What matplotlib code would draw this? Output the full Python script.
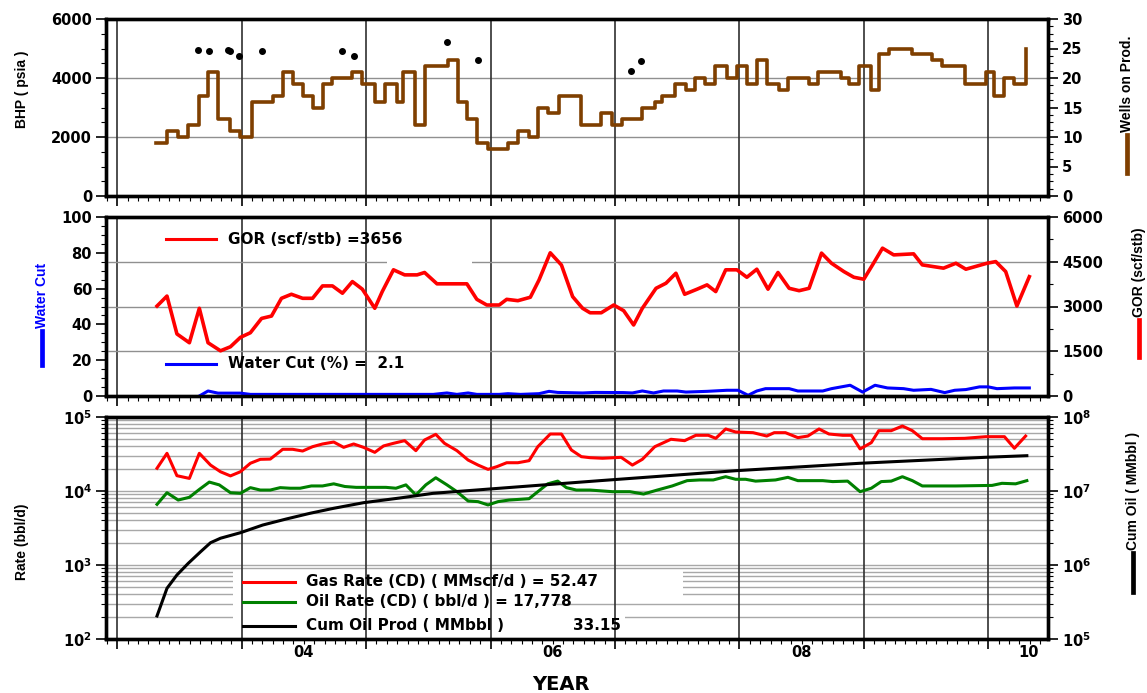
import numpy as np
import matplotlib
matplotlib.use("Agg")
from matplotlib import pyplot as plt
from matplotlib.ticker import MultipleLocator, FixedLocator, FixedFormatter, LogLocator, NullFormatter
from matplotlib.patches import Rectangle
from matplotlib.lines import Line2D

# ---------------- data (decimal year, value) ----------------
# top panel : wells on production (step) + BHP points
wells_year = [2003.31, 2003.40, 2003.49, 2003.57, 2003.66, 2003.73, 2003.81, 2003.91, 2003.99,
              2004.08, 2004.25, 2004.33, 2004.41, 2004.49, 2004.57, 2004.65, 2004.73, 2004.89, 2004.97,
              2005.07, 2005.15, 2005.25, 2005.30, 2005.39, 2005.47, 2005.66, 2005.74, 2005.81, 2005.89, 2005.98,
              2006.14, 2006.22, 2006.31, 2006.38, 2006.46, 2006.55, 2006.73, 2006.89, 2006.98,
              2007.06, 2007.22, 2007.32, 2007.38, 2007.48, 2007.57, 2007.64, 2007.72, 2007.80, 2007.90, 2007.98,
              2008.06, 2008.14, 2008.22, 2008.32, 2008.39, 2008.56, 2008.63, 2008.82, 2008.88, 2008.96,
              2009.06, 2009.12, 2009.20, 2009.39, 2009.55, 2009.63, 2009.81, 2009.98,
              2010.05, 2010.13, 2010.21, 2010.30]
wells = [9, 11, 10, 12, 17, 21, 13, 11, 10,
         16, 17, 21, 19, 17, 15, 19, 20, 21, 19,
         16, 19, 16, 21, 12, 22, 23, 16, 13, 9, 8,
         9, 11, 10, 15, 14, 17, 12, 14, 12,
         13, 15, 16, 17, 19, 18, 20, 19, 22, 20, 22,
         19, 23, 19, 18, 20, 19, 21, 20, 19, 22,
         18, 24, 25, 24, 23, 22, 19, 21,
         17, 20, 19, 25]

bhp_year = [2003.65, 2003.74, 2003.89, 2003.91, 2003.98, 2004.16, 2004.81, 2004.90,
            2005.65, 2005.90, 2007.13, 2007.21]
bhp = [4950, 4900, 4950, 4900, 4750, 4900, 4900, 4750, 5220, 4600, 4230, 4580]

# middle panel : GOR (right axis) and water cut (left axis)
gor_year = [2003.32, 2003.40, 2003.48, 2003.58, 2003.66, 2003.73, 2003.83, 2003.91, 2003.99,
            2004.07, 2004.16, 2004.24, 2004.32, 2004.40, 2004.49, 2004.57, 2004.65, 2004.73, 2004.81,
            2004.89, 2004.97, 2005.07, 2005.13, 2005.22, 2005.31, 2005.41, 2005.47, 2005.57, 2005.81,
            2005.89, 2005.97, 2006.07, 2006.13, 2006.22, 2006.32, 2006.39, 2006.48, 2006.57, 2006.66,
            2006.74, 2006.80, 2006.89, 2006.99, 2007.07, 2007.15, 2007.22, 2007.33, 2007.41, 2007.49,
            2007.56, 2007.66, 2007.74, 2007.81, 2007.89, 2007.98, 2008.06, 2008.14, 2008.23, 2008.31,
            2008.40, 2008.48, 2008.56, 2008.66, 2008.74, 2008.84, 2008.92, 2009.00, 2009.07, 2009.15,
            2009.24, 2009.40, 2009.47, 2009.64, 2009.74, 2009.82, 2009.99, 2010.06, 2010.14, 2010.23,
            2010.33]
gor = [3015, 3350, 2080, 1785, 2940, 1785, 1515, 1650, 1965,
       2120, 2600, 2680, 3275, 3410, 3275, 3275, 3690, 3690, 3445,
       3835, 3580, 2940, 3500, 4230, 4060, 4060, 4140, 3760, 3760,
       3240, 3050, 3050, 3240, 3195, 3310, 3890, 4800, 4390, 3330,
       2940, 2790, 2790, 3050, 2860, 2380, 2940, 3610, 3780, 4115,
       3410, 3580, 3725, 3500, 4230, 4230, 3980, 4250, 3580, 4140,
       3610, 3530, 3610, 4790, 4450, 4170, 3980, 3915, 4395, 4955,
       4730, 4765, 4395, 4285, 4450, 4250, 4450, 4505, 4170, 3015,
       4000]

wcut_year = [2003.66, 2003.73, 2003.81, 2003.99, 2004.07, 2005.54, 2005.65, 2005.73, 2005.82,
             2005.89, 2006.07, 2006.14, 2006.24, 2006.39, 2006.47, 2006.54, 2006.74, 2006.84,
             2007.07, 2007.14, 2007.22, 2007.31, 2007.39, 2007.50, 2007.57, 2007.74, 2007.90,
             2007.99, 2008.07, 2008.14, 2008.21, 2008.40, 2008.47, 2008.67, 2008.74, 2008.89,
             2008.99, 2009.09, 2009.19, 2009.32, 2009.40, 2009.54, 2009.65, 2009.73, 2009.82,
             2009.93, 2010.00, 2010.07, 2010.21, 2010.33]
wcut = [0.0, 2.8, 1.6, 1.6, 0.9, 0.9, 1.7, 0.9, 1.7,
        0.9, 0.9, 1.3, 0.9, 1.3, 2.6, 2.0, 1.7, 2.0,
        1.9, 1.7, 2.8, 1.7, 2.8, 2.8, 2.2, 2.6, 3.2,
        3.2, 0.4, 2.8, 4.1, 4.1, 2.8, 2.8, 4.1, 6.0,
        2.2, 6.0, 4.5, 4.1, 3.2, 3.7, 1.9, 3.2, 3.6,
        5.1, 5.1, 4.1, 4.5, 4.5]

# bottom panel : gas rate, oil rate (left, log) and cum oil (right, log)
gas_year = [2003.32, 2003.40, 2003.48, 2003.58, 2003.66, 2003.75, 2003.83, 2003.91, 2003.99,
            2004.07, 2004.15, 2004.23, 2004.33, 2004.41, 2004.49, 2004.57, 2004.65, 2004.74, 2004.82,
            2004.90, 2004.98, 2005.07, 2005.14, 2005.22, 2005.31, 2005.40, 2005.47, 2005.56, 2005.63,
            2005.73, 2005.82, 2005.90, 2005.98, 2006.05, 2006.13, 2006.22, 2006.31, 2006.38, 2006.48,
            2006.57, 2006.65, 2006.73, 2006.80, 2006.90, 2007.05, 2007.14, 2007.22, 2007.32, 2007.45,
            2007.56, 2007.65, 2007.75, 2007.81, 2007.89, 2007.97, 2008.11, 2008.22, 2008.28, 2008.37,
            2008.47, 2008.55, 2008.64, 2008.72, 2008.83, 2008.90, 2008.97, 2009.06, 2009.12, 2009.22,
            2009.31, 2009.39, 2009.47, 2009.63, 2009.81, 2009.98, 2010.13, 2010.21, 2010.30]
gas = [20300, 32300, 16100, 14800, 32300, 22400, 18200, 16000, 18200,
       23700, 26800, 27000, 36600, 36600, 34700, 39700, 43200, 45900, 38900,
       43200, 38900, 33300, 40600, 44100, 47900, 35100, 48900, 58300, 44100,
       35100, 26200, 22400, 19600, 21300, 24100, 24100, 25700, 39700, 58900,
       58900, 35800, 29100, 28200, 27700, 28500, 22400, 26800, 39700, 50000,
       47900, 56600, 56600, 51500, 68900, 62700, 61400, 55300, 61400, 61400,
       52600, 55300, 68900, 58900, 56600, 56600, 37000, 45000, 65300, 65300,
       75500, 65300, 50900, 50900, 51500, 54200, 54200, 37800, 55300]

oil_year = [2003.32, 2003.40, 2003.49, 2003.58, 2003.66, 2003.74, 2003.82, 2003.91, 2003.99,
            2004.07, 2004.15, 2004.23, 2004.31, 2004.39, 2004.47, 2004.56, 2004.65, 2004.74, 2004.83,
            2004.92, 2005.03, 2005.16, 2005.24, 2005.32, 2005.40, 2005.48, 2005.56, 2005.65, 2005.73,
            2005.82, 2005.90, 2005.98, 2006.06, 2006.15, 2006.31, 2006.38, 2006.46, 2006.54, 2006.61,
            2006.69, 2006.80, 2006.98, 2007.12, 2007.23, 2007.34, 2007.46, 2007.58, 2007.68, 2007.79,
            2007.89, 2007.97, 2008.05, 2008.13, 2008.29, 2008.39, 2008.47, 2008.56, 2008.67, 2008.75,
            2008.87, 2008.97, 2009.06, 2009.14, 2009.22, 2009.31, 2009.39, 2009.47, 2009.74, 2010.03,
            2010.11, 2010.22, 2010.31]
oil = [6600, 9480, 7550, 8220, 10500, 13200, 12100, 9480, 9300,
       11100, 10300, 10300, 11100, 10900, 10900, 11700, 11700, 12500, 11500,
       11200, 11200, 11200, 10900, 12100, 8830, 12100, 15100, 12100, 9790,
       7330, 7180, 6480, 7180, 7550, 7870, 9790, 12500, 13600, 11100,
       10300, 10300, 9790, 9790, 9100, 10300, 11700, 13800, 14100, 14100,
       15600, 14400, 14400, 13600, 14100, 15300, 13800, 13800, 13800, 13400,
       13600, 9790, 10900, 13400, 13600, 15600, 13800, 11700, 11700, 11900,
       12700, 12500, 13800]

cum_year = [2003.32, 2003.40, 2003.48, 2003.57, 2003.67, 2003.75, 2003.83, 2003.99, 2004.17,
            2004.36, 2004.55, 2004.74, 2004.98, 2005.27, 2005.54, 2005.98, 2006.88, 2007.97,
            2008.97, 2009.97, 2010.31]
cum_oil = [2.05e5, 4.84e5, 7.33e5, 1.05e6, 1.51e6, 2.0e6, 2.30e6, 2.73e6, 3.47e6,
           4.19e6, 5.0e6, 5.84e6, 6.95e6, 8.04e6, 9.31e6, 1.06e7, 1.38e7, 1.88e7,
           2.37e7, 2.85e7, 3.0e7]

year_lines = [2003, 2004, 2005, 2006, 2007, 2008, 2009, 2010]
year_label_pos = [2004.5, 2006.5, 2008.5, 2010.32]
year_labels = ["04", "06", "08", "10"]

BROWN = "#7f3f00"
XMIN, XMAX = 2002.91, 2010.48

plt.rcParams['font.family'] = ['DejaVu Sans']
plt.rcParams['font.weight'] = 'bold'

W, H = 1147, 693
fig = plt.figure(figsize=(W / 100, H / 100), dpi=100)


def px_axes(x0, y0, x1, y1):
    return fig.add_axes([x0 / W, 1 - y1 / H, (x1 - x0) / W, (y1 - y0) / H])


def style(ax, axr):
    ax.set_xlim(XMIN, XMAX)
    ax.xaxis.set_major_locator(FixedLocator(year_lines))
    ax.xaxis.set_major_formatter(NullFormatter())
    ax.xaxis.set_minor_locator(FixedLocator(np.arange(2002, 2011, 1 / 12)))
    for a in (ax, axr):
        for s in a.spines.values():
            s.set_linewidth(2.4)
        a.tick_params(which='major', direction='out', length=7, width=1.2, labelsize=10.5, pad=3)
        a.tick_params(which='minor', direction='out', length=3.5, width=0.8)
    for yr in year_lines:
        ax.axvline(yr, color='#303030', lw=1.2, zorder=1.2)
    ax.set_axisbelow(True)
    axr.set_axisbelow(True)


# ---------------- top panel ----------------
ax1 = px_axes(106, 19, 1048, 196)
ax1r = ax1.twinx()
style(ax1, ax1r)
ax1.set_ylim(0, 6000)
ax1.yaxis.set_major_locator(MultipleLocator(2000))
ax1.yaxis.set_minor_locator(MultipleLocator(500))
ax1.grid(axis='y', color='#909090', lw=1)
ax1r.set_ylim(0, 30)
ax1r.yaxis.set_major_locator(MultipleLocator(5))
ax1r.yaxis.set_minor_locator(MultipleLocator(1.25))
ax1r.step(wells_year, wells, where='post', color=BROWN, lw=2.6, zorder=3)
ax1r.plot(bhp_year, np.array(bhp) / 200.0, 'o', color='black', ms=4, zorder=4)

# ---------------- middle panel ----------------
ax2 = px_axes(106, 217, 1048, 396)
ax2r = ax2.twinx()
style(ax2, ax2r)
ax2.set_ylim(0, 100)
ax2.yaxis.set_major_locator(MultipleLocator(20))
ax2.yaxis.set_minor_locator(MultipleLocator(5))
ax2r.set_ylim(0, 6000)
ax2r.yaxis.set_major_locator(MultipleLocator(1500))
ax2r.yaxis.set_minor_locator(MultipleLocator(750))
ax2r.grid(axis='y', color='#909090', lw=1)
ax2r.add_patch(Rectangle((0.298, 0.715), 0.091, 0.07, transform=ax2r.transAxes,
                         facecolor='white', edgecolor='none', zorder=1))
ax2.plot(wcut_year, wcut, color='#0000ff', lw=2.2, zorder=3)
ax2r.plot(gor_year, gor, color='#ff0000', lw=2.6, zorder=3)
ax2r.plot([0.064, 0.117], [0.877, 0.877], color='#ff0000', lw=2.2, transform=ax2r.transAxes)
ax2r.text(0.1295, 0.877, "GOR (scf/stb) =3656", transform=ax2r.transAxes, va='center', fontsize=11)
ax2r.plot([0.064, 0.117], [0.179, 0.179], color='#0000ff', lw=2.2, transform=ax2r.transAxes)
ax2r.text(0.1295, 0.179, "Water Cut (%) =  2.1", transform=ax2r.transAxes, va='center', fontsize=11)

# ---------------- bottom panel ----------------
ax3 = px_axes(106, 417, 1048, 639)
ax3r = ax3.twinx()
style(ax3, ax3r)
for a, lo in ((ax3, 2), (ax3r, 5)):
    a.set_yscale('log')
    a.set_ylim(10 ** lo, 10 ** (lo + 3))
    a.yaxis.set_major_locator(FixedLocator([10 ** k for k in range(lo, lo + 4)]))
    a.yaxis.set_major_formatter(FixedFormatter([r'$\mathbf{10^{%d}}$' % k for k in range(lo, lo + 4)]))
    a.yaxis.set_minor_locator(LogLocator(base=10, subs=np.arange(2, 10)))
    a.yaxis.set_minor_formatter(NullFormatter())
ax3.grid(axis='y', which='both', color='#a8a8a8', lw=1)
# white legend background hides the horizontal grid only
for (x0, y0, x1, y1) in [(233, 570, 683, 600), (233, 600, 552, 610), (233, 610, 625, 634)]:
    ax3.add_patch(Rectangle(((x0 - 106) / 942, (639 - y1) / 222), (x1 - x0) / 942, (y1 - y0) / 222,
                            transform=ax3.transAxes, facecolor='white', edgecolor='none', zorder=1))
ax3.plot(gas_year, gas, color='#ff0000', lw=2.2, zorder=3)
ax3.plot(oil_year, oil, color='#008000', lw=2.2, zorder=3)
ax3r.plot(cum_year, cum_oil, color='black', lw=2.2, zorder=3)

leg = [("#ff0000", 0.257, "Gas Rate (CD) ( MMscf/d ) = 52.47"),
       ("#008000", 0.167, "Oil Rate (CD) ( bbl/d ) = 17,778"),
       ("black", 0.059, "Cum Oil Prod ( MMbbl )")]
for col, yy, txt in leg:
    ax3r.plot([0.145, 0.201], [yy, yy], color=col, lw=2.2, transform=ax3r.transAxes)
    ax3r.text(0.212, yy, txt, transform=ax3r.transAxes, va='center', fontsize=11)
ax3r.text(0.496, 0.059, "33.15", transform=ax3r.transAxes, va='center', fontsize=11)

for pos, lab in zip(year_label_pos, year_labels):
    ax3.text(pos, -0.063, lab, transform=ax3.get_xaxis_transform(), ha='center', va='center',
             fontsize=10.5)

# ---------------- axis titles (figure pixels) ----------------
LABEL_FONT = ['Liberation Sans', 'DejaVu Sans']


def vlabel(x, y, txt, color='black', seg=None, seg_color=None):
    # with a colour segment the text starts just above it, otherwise it is centred on y
    if seg is None:
        fig.text(x / W, 1 - y / H, txt, rotation=90, ha='center', va='center', color=color,
                 family=LABEL_FONT, weight='bold', fontsize=10)
        return
    fig.text(x / W, 1 - (seg[0] - 3) / H, txt, rotation=90, ha='center', va='bottom', color=color,
             family=LABEL_FONT, weight='bold', fontsize=10)
    fig.add_artist(Line2D([x / W, x / W], [1 - seg[0] / H, 1 - seg[1] / H],
                          color=seg_color or color, lw=3.4, transform=fig.transFigure))


vlabel(22, 89, "BHP ( psia )")
vlabel(42, 293, "Water Cut", color='#0000ff', seg=(331, 365))
vlabel(22, 542, "Rate (bbl/d)")
vlabel(1127, 82, "Wells on Prod.", seg=(135, 173), seg_color=BROWN)
vlabel(1139, 274, "GOR (scf/stb)", seg=(320, 357), seg_color='#ff0000')
vlabel(1133, 487, "Cum Oil ( MMbbl )", seg=(553, 592))

fig.text(561 / W, 1 - 684 / H, "YEAR", ha='center', va='center', fontsize=14)

fig.savefig("out.png", dpi=100)
